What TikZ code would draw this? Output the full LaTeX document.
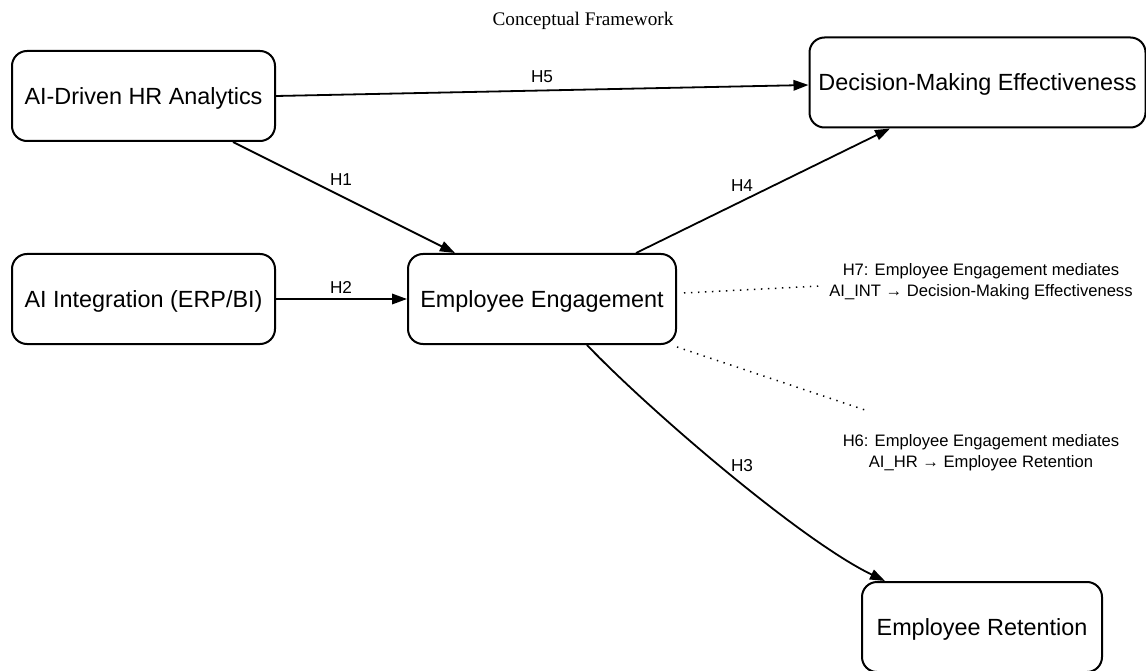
\documentclass[tikz,border=0pt]{standalone}
\usepackage{fontspec}
\setmainfont{Liberation Sans}
\newfontfamily\titlefont{Liberation Serif}
\usetikzlibrary{arrows.meta,calc}
\begin{document}
\begin{tikzpicture}[x=1pt,y=-1pt,
  box/.style={draw, line width=2pt, rounded corners=15pt, minimum height=90pt, inner sep=0pt, text height=16.8pt, text depth=0pt, font=\fontsize{23.4}{27}\selectfont},
  arr/.style={line width=1.8pt, -{Triangle[length=15pt,width=10.5pt]}},
  lab/.style={font=\fontsize{17.2}{20}\selectfont, inner sep=0pt},
  dots/.style={line width=1.5pt, dash pattern=on 1.4pt off 5.6pt},
  note/.style={font=\fontsize{16.6}{21}\selectfont, align=center, inner sep=0pt}]
\useasboundingbox (0,0) rectangle (1146,671);

\node[font=\titlefont\fontsize{19.2}{22}\selectfont, inner sep=0pt, anchor=base] (title) at (583,26) {Conceptual Framework};

\node[box, minimum width=263pt] (hr) at (143.5,96) {AI-Driven HR Analytics};
\node[box, minimum width=336pt] (dme) at (977.5,82.5) {Decision-Making Effectiveness};
\node[box, minimum width=263pt] (int) at (143.5,299) {AI Integration (ERP/BI)};
\node[box, minimum width=268pt] (ee) at (542,299) {Employee Engagement};
\node[box, minimum width=240pt] (ret) at (982,627) {Employee Retention};

% H5
\draw[arr] (hr.east) -- ([yshift=-2.5pt]dme.west);
\node[lab] (l5) at (542,77) {H5};
% H1
\draw[arr] ([xshift=89.5pt]hr.south) -- ([xshift=-87pt]ee.north);
\node[lab] (l1) at (341,180) {H1};
% H2
\draw[arr] (int.east) -- (ee.west);
\node[lab] (l2) at (341,287) {H2};
% H4
\draw[arr] ([xshift=94pt]ee.north) -- ([xshift=-87.5pt]dme.south);
\node[lab] (l4) at (742,186) {H4};
% H3
\coordinate (h3s) at ([xshift=45pt]ee.south);
\coordinate (h3e) at ([xshift=-97pt]ret.north);
\draw[arr] (h3s) .. controls ($(h3s)+(60,63)$) and ($(h3e)+(-85,-41)$) .. (h3e);
\node[lab] (l3) at (742,466) {H3};

% mediation notes
\coordinate (h7end) at (820,286);
\coordinate (h6end) at (865,410);
\draw[dots] ([xshift=7pt,yshift=6pt]ee.east) -- (h7end);
\draw[dots] ([yshift=-2pt]ee.south east) -- (h6end);
\node[note] (h7) at (981,282) {H7: Employee Engagement mediates\\AI\_INT → Decision-Making Effectiveness};
\node[note] (h6) at (981,452.5) {H6: Employee Engagement mediates\\AI\_HR → Employee Retention};
\end{tikzpicture}
\end{document}
